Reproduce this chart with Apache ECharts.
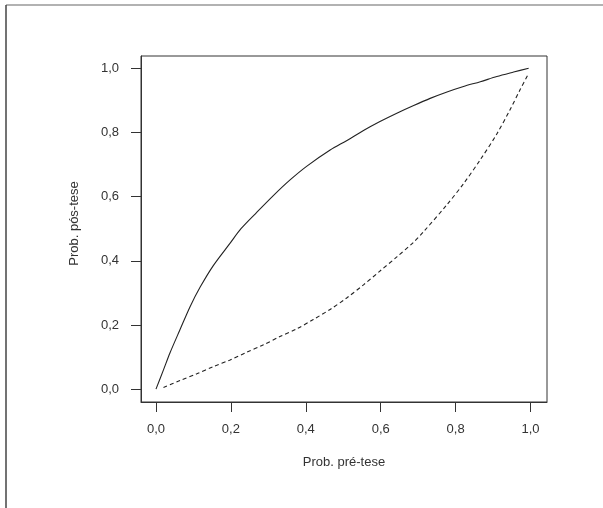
<!DOCTYPE html>
<html>
<head>
<meta charset="utf-8">
<script src="https://cdn.jsdelivr.net/npm/echarts@6/dist/echarts.min.js"></script>
<style>
  html, body { margin: 0; padding: 0; background: #fff; }
  #chart { width: 603px; height: 508px; }
</style>
</head>
<body>
<div id="chart"></div>
<script>
// curva contínua (RV+)
const preSolid = [0, 0.02, 0.037, 0.064, 0.091, 0.118, 0.153, 0.198, 0.227, 0.269, 0.314, 0.358, 0.403, 0.465, 0.51, 0.554, 0.598, 0.643, 0.688, 0.732, 0.777, 0.821, 0.866, 0.91, 0.955, 0.995];
const postSolid = [0, 0.06, 0.112, 0.185, 0.257, 0.318, 0.385, 0.455, 0.5, 0.551, 0.604, 0.652, 0.695, 0.745, 0.775, 0.806, 0.834, 0.86, 0.884, 0.906, 0.926, 0.943, 0.958, 0.974, 0.988, 1.0];
// curva tracejada (RV-)
const preDashed = [0.02, 0.064, 0.109, 0.153, 0.198, 0.242, 0.287, 0.331, 0.376, 0.42, 0.467, 0.51, 0.554, 0.598, 0.643, 0.688, 0.714, 0.777, 0.821, 0.866, 0.91, 0.946, 0.973, 0.993];
const postDashed = [0.005, 0.027, 0.048, 0.07, 0.091, 0.115, 0.138, 0.164, 0.188, 0.217, 0.25, 0.285, 0.325, 0.368, 0.412, 0.458, 0.49, 0.575, 0.64, 0.715, 0.795, 0.872, 0.935, 0.979];
const tickValues = [0, 0.2, 0.4, 0.6, 0.8, 1.0];

const fmt = v => v.toFixed(1).replace('.', ',');
const font = 'Liberation Sans, Arial, sans-serif';
const ink = '#333';

function axisCommon(name, gap, margin, pad, max) {
  return {
    type: 'value', min: -0.04, max: max,
    name: name, nameLocation: 'middle', nameGap: gap,
    nameTextStyle: { fontFamily: font, fontSize: 13, color: ink, padding: pad },
    axisLine: { show: true, onZero: false, lineStyle: { color: ink, width: 1 } },
    axisTick: { show: true, inside: false, length: 10, customValues: tickValues, lineStyle: { color: ink } },
    axisLabel: { margin: margin, fontFamily: font, fontSize: 13, color: ink, formatter: fmt, customValues: tickValues },
    splitLine: { show: false }
  };
}

let myChart = echarts.init(document.getElementById('chart'));
let option = {
  backgroundColor: '#fff',
  animation: false,
  grid: { left: 141, top: 56, width: 406, height: 346, show: true, borderColor: ink, borderWidth: 1, backgroundColor: 'transparent' },
  xAxis: axisCommon('Prob. pré-tese', 54, 21, 0, 1.044),
  yAxis: axisCommon('Prob. pós-tese', 60, 22, [0, 0, 0, 11], 1.038),
  graphic: [
    { type: 'line', shape: { x1: 6, y1: 5, x2: 603, y2: 5 }, style: { stroke: '#999', lineWidth: 1.5 } },
    { type: 'line', shape: { x1: 6, y1: 5, x2: 6, y2: 508 }, style: { stroke: '#444', lineWidth: 1.5 } }
  ],
  series: [
    {
      name: 'RV+', type: 'line',
      data: preSolid.map((x, i) => [x, postSolid[i]]),
      showSymbol: false, smooth: 0.3,
      lineStyle: { color: '#222', width: 1.1, type: 'solid' }
    },
    {
      name: 'RV-', type: 'line',
      data: preDashed.map((x, i) => [x, postDashed[i]]),
      showSymbol: false, smooth: 0.3,
      lineStyle: { color: '#222', width: 1.1, type: [4, 3] }
    }
  ]
};
myChart.setOption(option);
</script>
</body>
</html>
